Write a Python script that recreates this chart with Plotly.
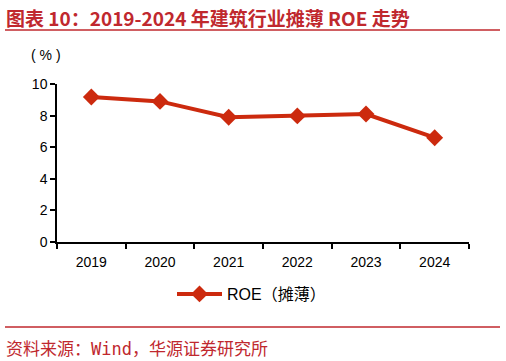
import plotly.graph_objects as go

years = ["2019", "2020", "2021", "2022", "2023", "2024"]
roe = [9.18, 8.90, 7.90, 7.98, 8.10, 6.60]
series_name = "ROE（摊薄）"
title_text = "图表 10：2019-2024 年建筑行业摊薄 ROE 走势"
source_text = '资料来源：<span style="font-family:DejaVu Sans Mono">Wind</span>，华源证券研究所'
y_ticks = [0, 2, 4, 6, 8, 10]

red = "#C0282E"
line_color = "#CC2A0E"

W, H = 506, 361
L, R, T, B = 57, 37, 84, 119
pw, ph = W - L - R, H - T - B


def px(x):
    return (x - L) / pw


def py(y):
    return (H - B - y) / ph


fig = go.Figure()
fig.add_trace(go.Scatter(
    x=years, y=roe, mode="lines+markers", name=series_name,
    line=dict(color=line_color, width=4),
    marker=dict(symbol="diamond", size=13, color=line_color),
))

fig.update_layout(
    width=W, height=H,
    margin=dict(l=L, r=R, t=T, b=B),
    paper_bgcolor="white", plot_bgcolor="white",
    font=dict(family="Liberation Sans, Arial, sans-serif", size=14, color="#000000"),
    showlegend=True,
    legend=dict(orientation="h", x=px(172), xanchor="left", y=py(294), yanchor="middle",
                itemwidth=45,
                font=dict(size=16, family="Liberation Sans, Noto Sans CJK SC, sans-serif")),
    xaxis=dict(type="category", showgrid=False, showline=True, linecolor="black", linewidth=1.5,
               ticks="outside", tickson="boundaries", ticklen=5, tickcolor="black", tickwidth=1.5,
               ticklabelstandoff=6, range=[-0.5, 5.5], zeroline=False),
    yaxis=dict(range=[0, 10], tickvals=y_ticks, showgrid=False, showline=True, linecolor="black",
               linewidth=1.5, ticks="outside", ticklen=5, tickcolor="black", tickwidth=1.5,
               zeroline=False),
)

fig.add_annotation(text="( % )", xref="paper", yref="paper", x=px(46), y=py(55),
                   xanchor="center", yanchor="middle", showarrow=False,
                   font=dict(size=14, family="Liberation Sans, Arial, sans-serif"))

fig.add_annotation(text="<b>" + title_text + "</b>", xref="paper", yref="paper",
                   x=px(4), y=py(17), xanchor="left", yanchor="middle",
                   showarrow=False,
                   font=dict(size=19, color=red, family="Noto Sans CJK SC, sans-serif"))

fig.add_annotation(text=source_text, xref="paper", yref="paper",
                   x=px(4), y=py(347), xanchor="left", yanchor="middle",
                   showarrow=False,
                   font=dict(size=17, color=red, family="Noto Sans CJK SC, sans-serif"))

for yline in (30, 327):
    fig.add_shape(type="line", xref="paper", yref="paper",
                  x0=px(5), x1=px(500), y0=py(yline), y1=py(yline),
                  line=dict(color=red, width=1.5))

fig.write_html("out.html", config={"displayModeBar": False},
               post_script="document.body.style.margin='0';")
